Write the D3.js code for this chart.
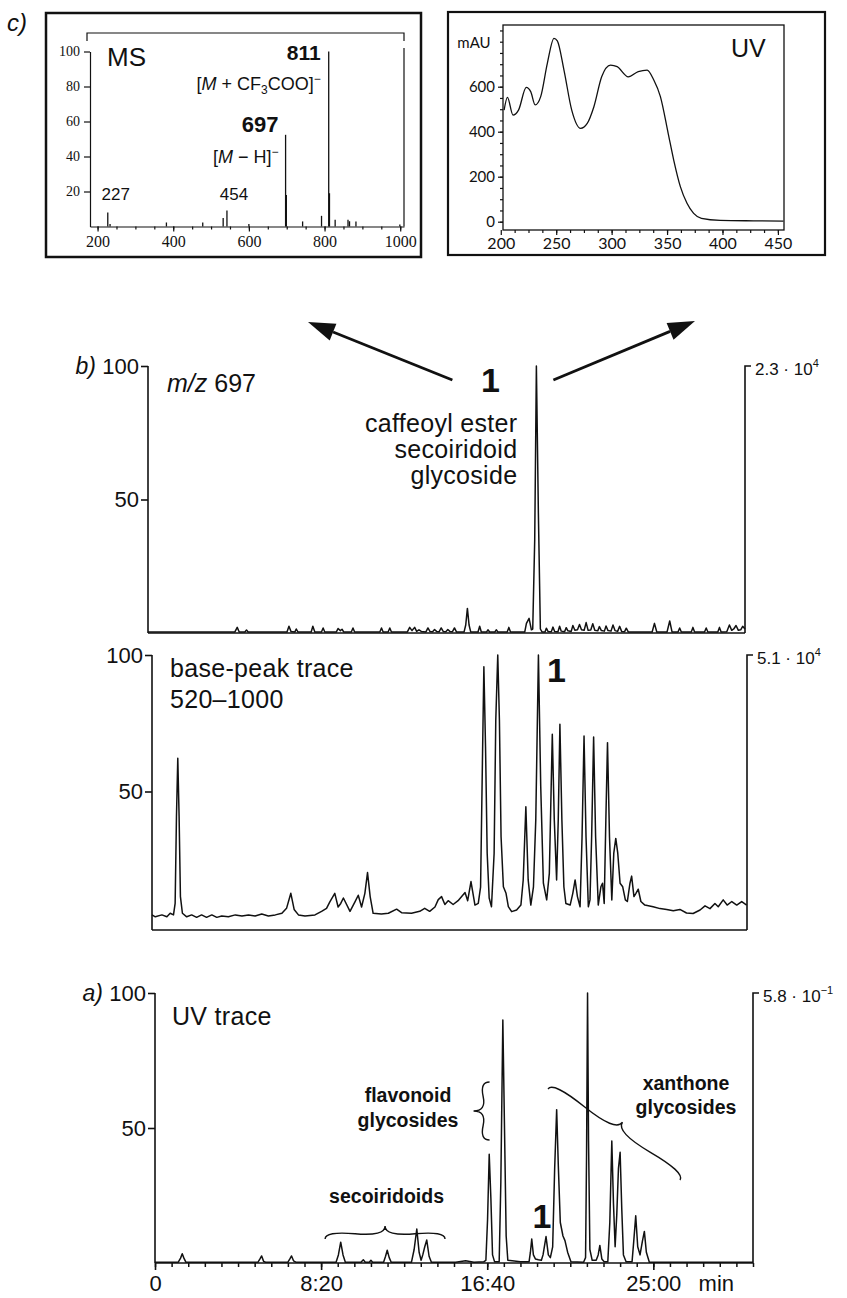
<!DOCTYPE html>
<html>
<head>
<meta charset="utf-8">
<script src="https://cdnjs.cloudflare.com/ajax/libs/d3/7.8.5/d3.min.js"></script>
<style>
  body { margin: 0; background: #fff; }
  svg { display: block; }
</style>
</head>
<body>
<div id="chart"></div>
<script>
// ---- c) MS spectrum of peak 1 (m/z, rel. intensity %)
var msMz  = [227, 233, 382, 478, 532, 542, 600, 697, 699, 742, 792, 811, 813, 828, 862, 866, 883, 999];
var msInt = [8, 1.5, 2.3, 2.3, 4.8, 9.1, 1.5, 52.4, 18, 2.9, 6.1, 100, 19, 3.8, 3.8, 3, 2.9, 1.2];
var msXTicks = [200, 400, 600, 800, 1000];
var msYTicks = [20, 40, 60, 80, 100];

// ---- c) UV spectrum of peak 1 (nm, mAU)
var uvNm  = [203, 206, 211, 216, 223, 227, 231, 236, 242, 248, 251, 257, 264, 272, 278, 284, 291, 299, 305, 315, 324, 332, 338, 344, 351, 356, 362, 368, 374, 381, 398, 428, 455];
var uvMau = [496, 553, 474, 496, 597, 578, 519, 556, 704, 815, 804, 674, 496, 415, 437, 511, 644, 696, 689, 644, 667, 674, 630, 556, 393, 274, 156, 82, 37, 15, 6, 4, 3];
var uvXTicks = [200, 250, 300, 350, 400, 450];
var uvYTicks = [0, 200, 400, 600];

// ---- b) m/z 697 trace (time s, %)
var mz697 = [[0,0.4],[262,0.4],[269,2.1],[275,0.4],[292,0.4],[297,1.1],[302,0.4],[419,0.4],[425,2.5],[431,0.6],[443,0.4],[447,1.5],[452,0.4],[492,0.4],[497,2.5],[503,0.4],[523,0.4],[528,1.9],[533,0.4],[568,0.4],[573,1.7],[580,0.9],[585,1.4],[590,0.4],[613,0.4],[618,1.9],[623,0.4],[699,0.4],[704,1.9],[709,0.4],[724,0.4],[729,1.9],[734,0.4],[782,0.4],[789,2.1],[796,0.9],[804,2.1],[810,0.6],[817,1.2],[824,0.6],[838,0.4],[844,1.9],[850,0.6],[858,0.5],[864,1.3],[870,0.6],[878,0.5],[884,1.9],[890,0.6],[898,0.5],[904,1.3],[910,0.6],[918,0.5],[924,1.9],[930,0.4],[953,0.4],[958,3],[963,9.2],[968,3],[973,0.4],[995,0.4],[1000,2.5],[1005,0.4],[1021,0.4],[1025,1.2],[1030,0.4],[1046,0.4],[1050,1.2],[1055,0.4],[1083,0.4],[1088,2.1],[1093,0.4],[1136,0.4],[1141,3.6],[1149,5.5],[1156,1.2],[1160,1.5],[1166,35],[1171,100],[1177,45],[1183,1.5],[1188,0.4],[1197,0.4],[1201,1.8],[1206,0.6],[1216,0.5],[1221,2.2],[1226,0.6],[1236,0.5],[1241,2.5],[1246,0.7],[1256,0.5],[1261,2],[1266,0.8],[1276,0.6],[1281,2.8],[1287,1],[1295,1.2],[1301,3.2],[1307,1.2],[1315,1],[1321,3.9],[1327,1],[1335,1.1],[1341,3.5],[1347,1],[1356,0.8],[1361,2.4],[1367,0.9],[1376,0.7],[1381,2.6],[1387,0.9],[1396,0.7],[1402,3],[1408,0.9],[1416,0.6],[1422,2.5],[1428,0.6],[1437,0.5],[1442,1.8],[1448,0.4],[1520,0.4],[1527,3.6],[1534,0.4],[1565,0.4],[1573,4.5],[1580,0.4],[1598,0.4],[1603,1.9],[1608,0.4],[1638,0.4],[1643,2.1],[1648,0.4],[1678,0.4],[1683,1.9],[1688,0.4],[1718,0.4],[1723,2.1],[1728,0.4],[1745,0.5],[1753,3],[1760,1],[1766,1.5],[1773,2.8],[1780,1],[1787,1.2],[1793,2.5],[1800,1.5]];

// ---- b) base-peak trace 520-1000
var basePeak = [[0,4.8],[10,4.1],[30,4.8],[45,4.1],[55,5.4],[65,4.8],[70,9],[74,40.8],[78,62.2],[82,40.8],[86,11.5],[92,5.4],[105,4.1],[120,4.8],[135,3.9],[150,4.8],[165,3.9],[181,4.8],[196,3.9],[211,4.4],[231,4.1],[252,4.8],[272,4.4],[292,4.8],[312,4.4],[332,5.1],[352,4.4],[373,4.8],[393,5.4],[407,7.2],[420,12.7],[430,6.8],[443,4.8],[463,4.4],[493,4.8],[513,6.1],[528,7.2],[538,9.6],[553,12.7],[563,7.7],[571,9],[579,11],[599,6.1],[614,9.6],[624,12],[634,7.7],[644,12.7],[652,20.3],[660,11.5],[669,5.4],[694,5.1],[715,5.4],[740,6.9],[755,5.6],[785,5.4],[810,6.1],[825,7.2],[840,6.1],[856,7.7],[866,10.4],[876,11.5],[886,8.6],[896,10],[911,8.6],[926,10],[947,13],[955,10],[965,17],[977,8.4],[987,9],[994,15],[1000,64],[1004,95.7],[1009,66.4],[1014,27.4],[1020,11],[1027,7.8],[1035,27.4],[1040,76.2],[1046,100],[1051,76.2],[1056,33.4],[1063,15.1],[1071,12.7],[1078,7.8],[1088,6],[1103,6.6],[1116,8.4],[1123,17.6],[1131,44.4],[1138,17.6],[1146,8.4],[1154,15.1],[1161,39.6],[1169,100],[1176,51.8],[1184,16.4],[1194,10.3],[1202,20],[1211,71],[1217,39.6],[1224,17.6],[1229,39.6],[1234,74.6],[1240,39.6],[1246,15.1],[1252,9],[1265,8.4],[1273,12.7],[1280,17.6],[1287,11.5],[1295,7.8],[1301,33.4],[1307,70.3],[1313,33.4],[1320,7.8],[1325,10.3],[1330,33.4],[1336,70],[1342,33.4],[1350,8.4],[1358,15.1],[1363,16.4],[1368,9],[1373,39.6],[1378,67.9],[1384,33.4],[1391,10.3],[1397,27.4],[1403,32.8],[1409,27.4],[1416,16.4],[1424,15.1],[1432,10.3],[1438,9.7],[1446,16.4],[1451,19],[1458,11.5],[1464,12.7],[1471,14.2],[1479,9.7],[1491,8.4],[1516,7.8],[1537,7.1],[1557,6.8],[1577,6.3],[1597,6.8],[1617,5.5],[1637,5.3],[1658,6.6],[1673,8.1],[1688,7.1],[1703,9],[1713,7.8],[1728,10.3],[1740,8.4],[1754,9.7],[1769,8.4],[1784,9.7],[1799,8.4]];

// ---- a) UV trace
var uvTrace = [[0,0.3],[70,0.3],[77,1.8],[82,3.4],[87,1.8],[93,0.3],[310,0.3],[316,1.5],[321,2.6],[327,0.6],[333,0.3],[400,0.3],[406,1.5],[411,2.6],[417,0.8],[424,0.3],[545,0.3],[552,3],[559,7.7],[566,3],[573,0.3],[620,0.3],[627,1.2],[633,0.3],[645,0.3],[650,1],[655,0.3],[688,0.3],[694,2.5],[699,4.7],[705,2],[711,0.3],[772,0.3],[780,5],[788,12.6],[795,4],[801,1],[806,3],[812,6],[818,8.5],[825,2.5],[832,0.3],[905,0.3],[935,0.8],[960,0.3],[990,0.5],[996,1],[1001,16],[1006,40.3],[1011,24],[1016,3],[1022,0.5],[1036,0.5],[1041,30],[1047,90],[1052,50],[1057,10],[1062,1],[1100,0.5],[1126,0.5],[1130,4],[1134,8.9],[1139,3],[1145,1.5],[1154,1.2],[1163,1],[1168,3],[1177,9.8],[1184,3],[1190,2],[1197,6],[1203,35],[1209,56.8],[1214,36],[1220,15],[1228,10],[1234,8.3],[1242,4],[1252,0.5],[1290,0.3],[1296,2],[1299,40],[1302,100],[1305,45],[1309,5],[1316,1],[1328,1],[1334,3],[1339,6.5],[1345,1.5],[1352,0.5],[1363,0.5],[1369,15],[1375,45.2],[1380,22],[1385,6],[1390,18],[1395,35],[1400,41],[1405,20],[1410,3],[1418,0.5],[1436,0.5],[1441,8],[1447,17.5],[1453,6],[1460,3],[1467,8],[1473,11.7],[1479,4],[1488,0.3],[1800,0.3]];

var timeTicks  = [0, 500, 1000, 1500];
var timeLabels = ["0", "8:20", "16:40", "25:00"];
var pctTicks   = [50, 100];

var SANS  = "'Liberation Sans', Arial, Helvetica, sans-serif";
var SERIF = "'Liberation Serif', 'Times New Roman', serif";
var UVF   = "Lato, 'Open Sans', sans-serif";

var svg = d3.select("#chart").append("svg")
  .attr("width", 847).attr("height", 1298);
svg.append("rect").attr("width", 847).attr("height", 1298).attr("fill", "#fff");

function txt(x, y, s, size, opts) {
  opts = opts || {};
  return svg.append("text")
    .attr("x", x).attr("y", y)
    .attr("font-family", opts.family || SANS)
    .attr("font-size", size)
    .attr("font-weight", opts.weight || "normal")
    .attr("font-style", opts.style || "normal")
    .attr("text-anchor", opts.anchor || "start")
    .attr("letter-spacing", opts.ls || 0)
    .attr("fill", "#111")
    .text(s);
}

function styleAxis(g, family, size, width) {
  g.attr("font-family", family).attr("font-size", size);
  g.selectAll("path, line").attr("stroke", "#111").attr("stroke-width", width);
  g.selectAll("text").attr("fill", "#111");
}

// curly brace between two points, tip to the left of the direction 1->2
function brace(x1, y1, x2, y2, w, q) {
  var dx = x1 - x2, dy = y1 - y2, len = Math.sqrt(dx * dx + dy * dy);
  dx /= len; dy /= len;
  var qx1 = x1 + q * w * dy, qy1 = y1 - q * w * dx;
  var qx2 = (x1 - .25 * len * dx) + (1 - q) * w * dy, qy2 = (y1 - .25 * len * dy) - (1 - q) * w * dx;
  var tx1 = (x1 - .5 * len * dx) + w * dy, ty1 = (y1 - .5 * len * dy) - w * dx;
  var qx3 = x2 + q * w * dy, qy3 = y2 - q * w * dx;
  var qx4 = (x1 - .75 * len * dx) + (1 - q) * w * dy, qy4 = (y1 - .75 * len * dy) - (1 - q) * w * dx;
  svg.append("path")
    .attr("d", "M" + x1 + "," + y1 + " Q" + qx1 + "," + qy1 + " " + qx2 + "," + qy2 + " T" + tx1 + "," + ty1 +
               " M" + x2 + "," + y2 + " Q" + qx3 + "," + qy3 + " " + qx4 + "," + qy4 + " T" + tx1 + "," + ty1)
    .attr("fill", "none").attr("stroke", "#111").attr("stroke-width", 1.4);
}

function arrow(x1, y1, x2, y2) {
  var a = Math.atan2(y2 - y1, x2 - x1), L = 27, W = 9;
  var bx = x2 - L * Math.cos(a), by = y2 - L * Math.sin(a);
  svg.append("line").attr("x1", x1).attr("y1", y1).attr("x2", bx).attr("y2", by)
    .attr("stroke", "#111").attr("stroke-width", 2.8);
  svg.append("path")
    .attr("d", "M" + x2 + "," + y2 + "L" + (bx + W * Math.sin(a)) + "," + (by - W * Math.cos(a)) +
               "L" + (bx - W * Math.sin(a)) + "," + (by + W * Math.cos(a)) + "Z")
    .attr("fill", "#111");
}

// =================== c) MS inset ===================
svg.append("rect").attr("x", 46).attr("y", 13).attr("width", 375).attr("height", 244)
  .attr("fill", "none").attr("stroke", "#111").attr("stroke-width", 2.5);

var xMs = d3.scaleLinear().domain([180, 1010]).range([90, 404]);
var yMs = d3.scaleLinear().domain([0, 100]).range([226.5, 51.5]);

svg.append("path").attr("d", "M87,41V33H404V41").attr("fill", "none").attr("stroke", "#111").attr("stroke-width", 1.2);
svg.append("line").attr("x1", 404).attr("x2", 404).attr("y1", 48).attr("y2", 226.5).attr("stroke", "#111").attr("stroke-width", 1.2);

var msYAxis = svg.append("g").attr("transform", "translate(90,0)")
  .call(d3.axisLeft(yMs).tickValues(msYTicks).tickSize(6).tickSizeOuter(0).tickPadding(4));
styleAxis(msYAxis, SERIF, 14, 1.2);
var msXMinor = svg.append("g").attr("transform", "translate(0,226.5)")
  .call(d3.axisBottom(xMs).tickValues(d3.range(200, 1001, 50)).tickSize(3).tickSizeOuter(0).tickFormat(""));
styleAxis(msXMinor, SERIF, 16, 1.2);
var msXAxis = svg.append("g").attr("transform", "translate(0,226.5)")
  .call(d3.axisBottom(xMs).tickValues(msXTicks).tickSize(5).tickSizeOuter(0).tickPadding(4).tickFormat(d3.format("d")));
styleAxis(msXAxis, SERIF, 16, 1.2);
msXAxis.select(".domain").remove();

svg.append("g").selectAll("line").data(msMz).join("line")
  .attr("x1", function(d) { return xMs(d); }).attr("x2", function(d) { return xMs(d); })
  .attr("y1", yMs(0)).attr("y2", function(d, i) { return yMs(msInt[i]); })
  .attr("stroke", "#111").attr("stroke-width", 1.3);

txt(107, 66, "MS", 26);
txt(xMs(811) - 8, 60, "811", 21, { weight: "bold", anchor: "end" });
var t1 = txt(xMs(811) - 8, 90, "", 18, { anchor: "end" });
t1.append("tspan").text("[");
t1.append("tspan").attr("font-style", "italic").text("M");
t1.append("tspan").text(" + CF");
t1.append("tspan").attr("font-size", 12).attr("dy", 4).text("3");
t1.append("tspan").attr("dy", -4).text("COO]");
t1.append("tspan").attr("font-size", 12).attr("dy", -7).text("\u2212");
txt(xMs(697) - 7, 132, "697", 22, { weight: "bold", anchor: "end" });
var t2 = txt(xMs(697) - 7, 163, "", 18, { anchor: "end" });
t2.append("tspan").text("[");
t2.append("tspan").attr("font-style", "italic").text("M");
t2.append("tspan").text(" \u2212 H]");
t2.append("tspan").attr("font-size", 12).attr("dy", -7).text("\u2212");
txt(xMs(227) + 8, 200, "227", 17, { anchor: "middle" });
txt(xMs(542) + 7, 200, "454", 17, { anchor: "middle" });

txt(7, 31, "c)", 24, { style: "italic" });

// =================== c) UV inset ===================
svg.append("rect").attr("x", 448).attr("y", 12).attr("width", 377).attr("height", 243)
  .attr("fill", "none").attr("stroke", "#111").attr("stroke-width", 2.2);

var xUv = d3.scaleLinear().domain([202, 455.5]).range([503, 784]);
var yUv = d3.scaleLinear().domain([0, 800]).range([221.7, 41.7]);

svg.append("rect").attr("x", 503).attr("y", 25).attr("width", 281).attr("height", 205)
  .attr("fill", "none").attr("stroke", "#111").attr("stroke-width", 1.3);

var uvYMinor = svg.append("g").attr("transform", "translate(503,0)")
  .call(d3.axisLeft(yUv).tickValues(d3.range(0, 876, 50)).tickSize(3).tickSizeOuter(0).tickFormat(""));
styleAxis(uvYMinor, UVF, 15, 1.2);
uvYMinor.select(".domain").remove();
var uvYAxis = svg.append("g").attr("transform", "translate(503,0)")
  .call(d3.axisLeft(yUv).tickValues(uvYTicks).tickSize(5).tickSizeOuter(0).tickPadding(3));
styleAxis(uvYAxis, UVF, 15, 1.2);
uvYAxis.select(".domain").remove();
var uvXMinor = svg.append("g").attr("transform", "translate(0,230)")
  .call(d3.axisBottom(xUv).tickValues(d3.range(212.5, 451, 12.5)).tickSize(3).tickSizeOuter(0).tickFormat(""));
styleAxis(uvXMinor, UVF, 15, 1.2);
uvXMinor.select(".domain").remove();
var uvXAxis = svg.append("g").attr("transform", "translate(0,230)")
  .call(d3.axisBottom(xUv).tickValues(uvXTicks).tickSize(5).tickSizeOuter(0).tickPadding(3));
styleAxis(uvXAxis, UVF, 16, 1.2);
uvXAxis.select(".domain").remove();

svg.append("path")
  .datum(uvNm.map(function(d, i) { return [d, uvMau[i]]; }))
  .attr("d", d3.line().x(function(d) { return xUv(d[0]); }).y(function(d) { return yUv(d[1]); }).curve(d3.curveMonotoneX))
  .attr("fill", "none").attr("stroke", "#111").attr("stroke-width", 1.3);

txt(474, 48, "mAU", 15, { family: UVF, anchor: "middle" });
txt(731, 57, "UV", 25);

// =================== chromatogram panels ===================
function panel(cfg) {
  var x = d3.scaleLinear().domain([0, 1800]).range([cfg.left, cfg.right]);
  var y = d3.scaleLinear().domain([0, 100]).range([cfg.bottom, cfg.top]);
  var axL = svg.append("g").attr("transform", "translate(" + cfg.left + ",0)")
    .call(d3.axisLeft(y).tickValues(pctTicks).tickSize(7).tickSizeOuter(0).tickPadding(2));
  styleAxis(axL, SANS, 22, 1.6);
  axL.select(".domain").attr("d", "M0," + cfg.axisBottom + "V" + cfg.top);
  // right scale bar
  svg.append("path")
    .attr("d", "M" + (cfg.right + 6) + "," + cfg.top + "H" + cfg.right + "V" + cfg.axisBottom)
    .attr("fill", "none").attr("stroke", "#111").attr("stroke-width", 1.6);
  var lab = txt(cfg.right + 10, cfg.top + 9, cfg.scale[0], 17);
  lab.append("tspan").attr("font-size", 11).attr("dy", -8).text(cfg.scale[1]);
  // bottom line
  svg.append("line").attr("x1", cfg.left).attr("x2", cfg.right)
    .attr("y1", cfg.axisBottom).attr("y2", cfg.axisBottom)
    .attr("stroke", "#111").attr("stroke-width", 1.6);
  svg.append("path").datum(cfg.data)
    .attr("d", d3.line().x(function(d) { return x(d[0]); }).y(function(d) { return y(d[1]); }))
    .attr("fill", "none").attr("stroke", "#111").attr("stroke-width", 1.5)
    .attr("stroke-linejoin", "round");
  return { x: x, y: y };
}

// b) m/z 697
var pTop = panel({ left: 148, right: 745, top: 366, bottom: 633, axisBottom: 633,
  data: mz697, scale: ["2.3 \u00B7 10", "4"] });
txt(pTop.x(0) - 52, pTop.y(100) + 8, "b)", 23, { style: "italic", anchor: "end" });
var mzl = txt(167, 392, "", 25);
mzl.append("tspan").attr("font-style", "italic").text("m/z");
mzl.append("tspan").text(" 697");
txt(pTop.x(1171) - 46, 392, "1", 34, { weight: "bold", anchor: "middle" });
["caffeoyl ester", "secoiridoid", "glycoside"].forEach(function(s, i) {
  txt(pTop.x(1171) - 19, 432 + i * 26, s, 25, { anchor: "end", ls: 0.3 });
});
arrow(pTop.x(1171) - 84, 380, 308, 322);
arrow(pTop.x(1171) + 17, 380, 695, 321);

// b) base peak
var pMid = panel({ left: 152, right: 747, top: 655, bottom: 928, axisBottom: 930,
  data: basePeak, scale: ["5.1 \u00B7 10", "4"] });
txt(170, 677, "base-peak trace", 25, { ls: 0.3 });
txt(170, 708, "520\u20131000", 25, { ls: 0.3 });
txt(pMid.x(1169) + 18, 682, "1", 34, { weight: "bold", anchor: "middle" });

// a) UV trace
var pBot = panel({ left: 155, right: 753, top: 993, bottom: 1263, axisBottom: 1263,
  data: uvTrace, scale: ["5.8 \u00B7 10", "\u22121"] });
txt(pBot.x(0) - 52, pBot.y(100) + 8, "a)", 23, { style: "italic", anchor: "end" });
txt(172, 1025, "UV trace", 25, { ls: 0.3 });

var axMinor = svg.append("g").attr("transform", "translate(0,1263)")
  .call(d3.axisBottom(pBot.x).tickValues(d3.range(0, 1801, 50)).tickSize(4).tickSizeOuter(0).tickFormat(""));
styleAxis(axMinor, SANS, 22, 1.5);
axMinor.select(".domain").remove();
var axMajor = svg.append("g").attr("transform", "translate(0,1263)")
  .call(d3.axisBottom(pBot.x).tickValues(timeTicks).tickSize(7).tickSizeOuter(0)
    .tickFormat(function(d, i) { return timeLabels[i]; }));
styleAxis(axMajor, SANS, 22, 1.6);
axMajor.select(".domain").remove();
axMajor.selectAll("text").attr("dy", 0).attr("y", 28);
txt(pBot.x(1500) + 63, 1291, "min", 22, { anchor: "middle" });

txt(pBot.x(1177) - 4, 1228, "1", 34, { weight: "bold", anchor: "middle" });

// group labels with braces
txt(pBot.x(697), 1203, "secoiridoids", 19.5, { weight: "bold", anchor: "middle" });
brace(pBot.x(873), 1239, pBot.x(512), 1239, 13, 0.6);
txt(408, 1102, "flavonoid", 19.5, { weight: "bold", anchor: "middle" });
txt(408, 1127, "glycosides", 19.5, { weight: "bold", anchor: "middle" });
brace(pBot.x(1007), 1082, pBot.x(1007), 1140, 16, 0.6);
txt(686, 1090, "xanthone", 19.5, { weight: "bold", anchor: "middle" });
txt(686, 1114, "glycosides", 19.5, { weight: "bold", anchor: "middle" });
brace(680, 1180, pBot.x(1183), 1089, 15, 0.6);
</script>
</body>
</html>
